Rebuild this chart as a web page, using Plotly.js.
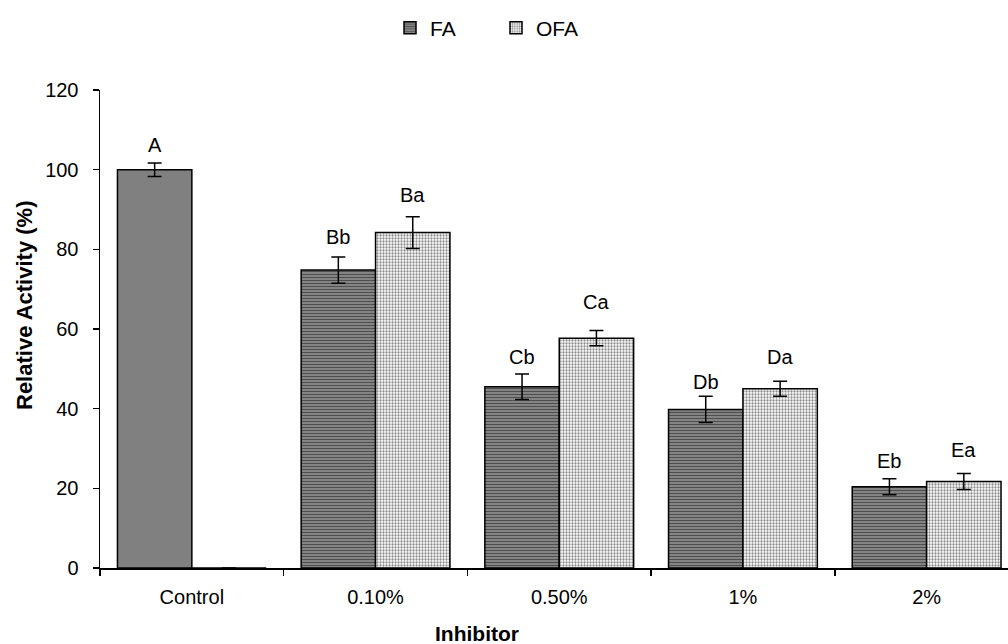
<!DOCTYPE html>
<html>
<head>
<meta charset="utf-8">
<script src="https://cdn.plot.ly/plotly-3.0.1.min.js"></script>
<style>html,body{margin:0;padding:0;background:#fff;}#chart{width:1008px;height:644px;}</style>
</head>
<body>
<div id="chart"></div>
<script>
// ---- data ----
var categories = ['Control', '0.10%', '0.50%', '1%', '2%'];
var controlValue = [100];
var controlError = [1.7];
var controlLabel = ['A'];
var faCategories = ['0.10%', '0.50%', '1%', '2%'];
var faValues = [74.8, 45.5, 39.8, 20.4];
var faErrors = [3.3, 3.2, 3.3, 2.0];
var faLabels = ['Bb', 'Cb', 'Db', 'Eb'];
var ofaValues = [0, 84.2, 57.7, 45.0, 21.7];
var ofaErrors = [0, 4.0, 1.9, 1.9, 2.0];
var ofaLabels = ['', 'Ba', 'Ca', 'Da', 'Ea'];
var yTicks = [0, 20, 40, 60, 80, 100, 120];

// ---- styling / layout ----
var FONT = 'Liberation Sans, Arial, sans-serif';
var bargap = 0.19;
var half = (1 - bargap) / 4;   // offset of each bar centre from category centre
var errStyle = {type: 'data', visible: true, color: '#000', thickness: 1.5, width: 7};
var lineStyle = {color: '#000', width: 1.5};

var traces = [
  {
    type: 'bar', name: 'Control', x: [categories[0]], y: controlValue,
    offsetgroup: 'fa', showlegend: false,
    marker: {color: '#808080', line: lineStyle},
    error_y: Object.assign({array: controlError}, errStyle),
    hoverinfo: 'x+y'
  },
  {
    type: 'bar', name: 'FA', x: faCategories, y: faValues,
    offsetgroup: 'fa',
    marker: {color: '#737373', line: lineStyle,
      pattern: {shape: '-', bgcolor: '#a8a8a8', fgcolor: '#4e4e4e', size: 3, solidity: 0.6, fillmode: 'replace'}},
    error_y: Object.assign({array: faErrors}, errStyle)
  },
  {
    type: 'bar', name: 'OFA', x: categories, y: ofaValues,
    offsetgroup: 'ofa',
    marker: {color: '#cccccc', line: lineStyle,
      pattern: {shape: '.', bgcolor: '#ffffff', fgcolor: '#8c8c8c', size: 3, solidity: 0.45, fillmode: 'replace'}},
    error_y: Object.assign({array: ofaErrors}, errStyle)
  }
];

// letter labels: gap (px) between error-bar top and label centre
var labelGapControl = [18];
var labelGapFA = [20, 17, 14, 18];
var labelGapOFA = [0, 22, 29, 24, 24];

var annotations = [];
function addLabel(catIndex, offset, top, text, gap) {
  if (!text) return;
  annotations.push({
    xref: 'x', yref: 'y', x: catIndex + offset, y: top, text: text,
    showarrow: false, xanchor: 'center', yanchor: 'middle', yshift: gap,
    font: {family: FONT, size: 20, color: '#000'}
  });
}
addLabel(0, -half, controlValue[0] + controlError[0], controlLabel[0], labelGapControl[0]);
faCategories.forEach(function (c, i) {
  addLabel(categories.indexOf(c), -half, faValues[i] + faErrors[i], faLabels[i], labelGapFA[i]);
});
categories.forEach(function (c, i) {
  addLabel(i, half, ofaValues[i] + ofaErrors[i], ofaLabels[i], labelGapOFA[i]);
});

// axis titles
annotations.push({
  xref: 'paper', yref: 'paper', x: 0, y: (568 - 306) / 478, xshift: -76,
  text: '<b>Relative Activity (%)</b>', textangle: -90, showarrow: false,
  xanchor: 'center', yanchor: 'middle',
  font: {family: FONT, size: 22, color: '#000'}
});
annotations.push({
  xref: 'paper', yref: 'paper', x: (477 - 100) / 908, y: 0, yshift: -65,
  text: '<b>Inhibitor</b>', showarrow: false,
  xanchor: 'center', yanchor: 'middle',
  font: {family: FONT, size: 21, color: '#000'}
});

var layout = {
  width: 1008, height: 644,
  margin: {l: 100, r: 0, t: 90, b: 76, pad: 0},
  paper_bgcolor: '#fff', plot_bgcolor: '#fff',
  barmode: 'group', bargap: bargap, bargroupgap: 0,
  font: {family: FONT, size: 20, color: '#000'},
  showlegend: true,
  legend: {
    orientation: 'h', xref: 'container', yref: 'container',
    x: 390 / 1008, y: 1 - 28 / 644, xanchor: 'left', yanchor: 'middle',
    entrywidth: 61, entrywidthmode: 'pixels',
    font: {family: FONT, size: 21, color: '#000'},
    traceorder: 'normal', itemclick: false
  },
  xaxis: {
    type: 'category', categoryorder: 'array', categoryarray: categories,
    range: [-0.5, 4.443], tickson: 'boundaries',
    ticks: 'outside', ticklen: 6, tickwidth: 1.5, tickcolor: '#000',
    showline: true, linecolor: '#000', linewidth: 1.5,
    showgrid: false, zeroline: false,
    ticklabelstandoff: 10,
    tickfont: {family: FONT, size: 20, color: '#000'}
  },
  yaxis: {
    range: [0, 120], tickvals: yTicks, ticktext: yTicks.map(String),
    ticks: 'outside', ticklen: 6, tickwidth: 1.5, tickcolor: '#000',
    showline: true, linecolor: '#000', linewidth: 1.5,
    showgrid: false, zeroline: false,
    ticklabelstandoff: 10,
    tickfont: {family: FONT, size: 20, color: '#000'}
  },
  annotations: annotations
};

Plotly.newPlot('chart', traces, layout, {displayModeBar: false, staticPlot: true});
</script>
</body>
</html>
